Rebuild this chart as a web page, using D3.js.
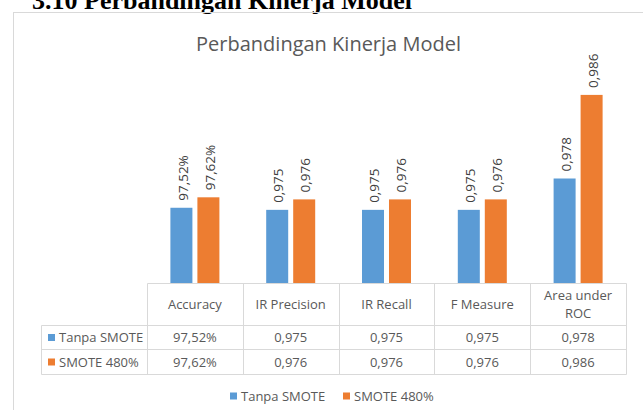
<!DOCTYPE html>
<html>
<head>
<meta charset="utf-8">
<script src="https://cdn.jsdelivr.net/npm/d3@7"></script>
<style>
  body { margin: 0; background: #fff; }
  svg { display: block; }
</style>
</head>
<body>
<div class="chart"></div>
<script>
// data
const categories = ["Accuracy", "IR Precision", "IR Recall", "F Measure", "Area under ROC"];
const categoryLines = [["Accuracy"], ["IR Precision"], ["IR Recall"], ["F Measure"], ["Area under", "ROC"]];
const seriesNames = ["Tanpa SMOTE", "SMOTE 480%"];
const tanpaSmote = [0.9752, 0.975, 0.975, 0.975, 0.978];
const smote480 = [0.9762, 0.976, 0.976, 0.976, 0.986];
const tanpaLabels = ["97,52%", "0,975", "0,975", "0,975", "0,978"];
const smoteLabels = ["97,62%", "0,976", "0,976", "0,976", "0,986"];

const colors = ["#5B9BD5", "#ED7D31"];
const font = "'Open Sans', sans-serif";

// setup chart
const width = 643;
const height = 410;
const svg = d3.select(".chart").append("svg").attr("width", width).attr("height", height);

// page heading, cut off at the top
svg.append("text")
   .attr("x", 32)
   .attr("y", 9)
   .attr("font-family", "'Liberation Serif', serif")
   .attr("font-weight", "bold")
   .attr("font-size", 26)
   .attr("fill", "#000")
   .text("3.10 Perbandingan Kinerja Model");

// chart border
svg.append("rect")
   .attr("x", 13.5).attr("y", 12.5)
   .attr("width", 700).attr("height", 500)
   .attr("fill", "none")
   .attr("stroke", "#D9D9D9");

svg.append("text")
   .attr("x", 328.5)
   .attr("y", 51)
   .attr("text-anchor", "middle")
   .attr("font-family", font)
   .attr("font-size", 20)
   .attr("fill", "#595959")
   .text("Perbandingan Kinerja Model");

// scales
const x = d3.scaleBand().domain(categories).range([147, 626]);
const xInner = d3.scaleBand().domain(seriesNames).range([0, 49]).paddingInner(0.185);
const y = d3.scaleLinear().domain([0.968, 0.988]).range([283, 74]);

const data = categories.map((c, i) => ({
   category: c,
   values: [
      { name: seriesNames[0], value: tanpaSmote[i], label: tanpaLabels[i], color: colors[0] },
      { name: seriesNames[1], value: smote480[i], label: smoteLabels[i], color: colors[1] }
   ]
}));

const groups = svg.append("g")
   .selectAll("g")
   .data(data)
   .enter()
   .append("g")
   .attr("transform", (d) => `translate(${x(d.category) + x.bandwidth() / 2 - 24.5},0)`);

groups.selectAll("rect")
   .data((d) => d.values)
   .enter()
   .append("rect")
   .attr("x", (d) => xInner(d.name))
   .attr("width", xInner.bandwidth())
   .attr("y", (d) => y(d.value))
   .attr("height", (d) => y.range()[0] - y(d.value))
   .attr("fill", (d) => d.color);

// rotated data labels
groups.selectAll("text")
   .data((d) => d.values)
   .enter()
   .append("text")
   .attr("transform", (d) => `translate(${xInner(d.name) + xInner.bandwidth() / 2 + 1.5},${y(d.value) - 7}) rotate(-90)`)
   .attr("dy", "0.35em")
   .attr("font-family", font)
   .attr("font-size", 13.5)
   .attr("fill", "#404040")
   .text((d) => d.label);

// data table
const table = svg.append("g").attr("stroke", "#D9D9D9").attr("fill", "none");
const rowY = [283.5, 325.5, 349.5, 374.5];
const left = 41.5;
const right = 626.5;

table.append("line").attr("x1", 147.5).attr("x2", right).attr("y1", rowY[0]).attr("y2", rowY[0]);
rowY.slice(1).forEach((yy) => {
   table.append("line").attr("x1", left).attr("x2", right).attr("y1", yy).attr("y2", yy);
});
table.append("line").attr("x1", left).attr("x2", left).attr("y1", rowY[1]).attr("y2", rowY[3]);
categories.forEach((c) => {
   const xx = Math.round(x(c)) + 0.5;
   table.append("line").attr("x1", xx).attr("x2", xx).attr("y1", rowY[0]).attr("y2", rowY[3]);
});
table.append("line").attr("x1", right).attr("x2", right).attr("y1", rowY[0]).attr("y2", rowY[3]);

const cellText = svg.append("g")
   .attr("font-family", font)
   .attr("font-size", 13)
   .attr("fill", "#595959");

categoryLines.forEach((lines, i) => {
   const cx = x(categories[i]) + x.bandwidth() / 2;
   const cy = (rowY[0] + rowY[1]) / 2;
   lines.forEach((line, j) => {
      cellText.append("text")
         .attr("x", cx)
         .attr("y", cy + (j - (lines.length - 1) / 2) * 18)
         .attr("dy", "0.35em")
         .attr("text-anchor", "middle")
         .text(line);
   });
});

[tanpaLabels, smoteLabels].forEach((labels, r) => {
   const cy = (rowY[r + 1] + rowY[r + 2]) / 2;
   labels.forEach((lab, i) => {
      cellText.append("text")
         .attr("x", x(categories[i]) + x.bandwidth() / 2)
         .attr("y", cy)
         .attr("dy", "0.35em")
         .attr("text-anchor", "middle")
         .text(lab);
   });
   svg.append("rect")
      .attr("x", 48).attr("y", cy - 3.5)
      .attr("width", 7).attr("height", 7)
      .attr("fill", colors[r]);
   cellText.append("text")
      .attr("x", 59)
      .attr("y", cy)
      .attr("dy", "0.35em")
      .text(seriesNames[r]);
});

// legend
const legendX = [230, 343];
seriesNames.forEach((name, i) => {
   svg.append("rect")
      .attr("x", legendX[i]).attr("y", 392.5)
      .attr("width", 7).attr("height", 7)
      .attr("fill", colors[i]);
   cellText.append("text")
      .attr("x", legendX[i] + 11)
      .attr("y", 396)
      .attr("dy", "0.35em")
      .text(name);
});
</script>
</body>
</html>
